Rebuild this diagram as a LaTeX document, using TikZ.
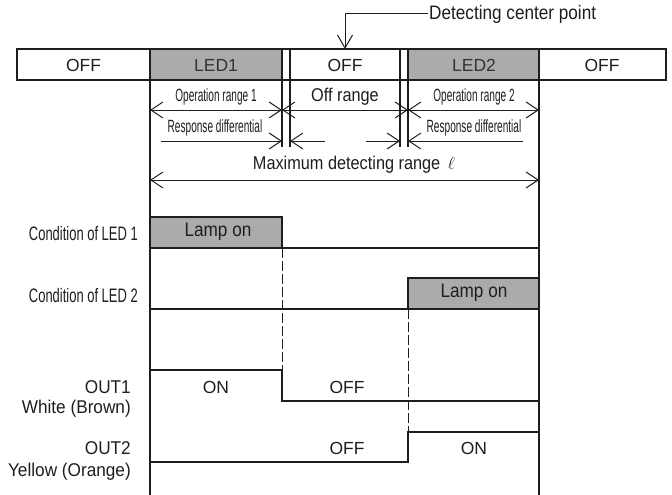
\documentclass[tikz,border=0pt]{standalone}
\usepackage{fontspec}
\setmainfont{Liberation Sans}
\newfontfamily\midfont[FakeStretch=0.88]{Liberation Sans}
\newfontfamily\outfont[FakeStretch=0.93]{Liberation Sans}
\newfontfamily\condfont[FakeStretch=0.57]{Liberation Sans}
\newfontfamily\labfont[FakeStretch=0.665]{Liberation Sans}
\usetikzlibrary{arrows.meta}
\definecolor{ledgray}{HTML}{ABABAB}
\definecolor{ink}{HTML}{1E1E1E}
\tikzset{
  every node/.style={text=ink, inner sep=1pt},
  ln/.style={draw=ink, line width=1.2pt},
  dim/.style={ln, line width=1pt, {Straight Barb[length=12pt,width=16pt]}-{Straight Barb[length=12pt,width=16pt]}},
  dimr/.style={ln, line width=1pt, -{Straight Barb[length=12pt,width=16pt]}},
  dsh/.style={draw=ink, line width=0.9pt, dash pattern=on 10pt off 3pt},
  reg/.style={font=\fontsize{17.5}{19}\selectfont},
  mid/.style={font=\midfont\fontsize{18.5}{20}\selectfont},
  big/.style={font=\midfont\fontsize{19.5}{21}\selectfont},
  lamp/.style={font=\midfont\fontsize{19.5}{21}\selectfont},
  cond/.style={font=\condfont\fontsize{17.7}{19}\selectfont},
  lab/.style={font=\labfont\fontsize{19.5}{21}\selectfont, anchor=east},
  rlab/.style={font=\outfont\fontsize{18.5}{20}\selectfont, anchor=east},
}
\begin{document}
\begin{tikzpicture}[x=1pt,y=-1pt]
\useasboundingbox (0,0) rectangle (672,495);
% top bar
\fill[ledgray] (150,49) rectangle (282,80);
\fill[ledgray] (408,49) rectangle (539,80);
\draw[ln] (17,49) rectangle (666,80);
\draw[ln] (150,49) -- (150,495);
\draw[ln] (539,49) -- (539,495);
\draw[ln] (282,49) -- (282,147);
\draw[ln] (290,49) -- (290,147);
\draw[ln] (400,49) -- (400,147);
\draw[ln] (408,49) -- (408,147);
\node[reg] (off1) at (83.5,65) {OFF};
\node[reg, text=black!80] (led1) at (216,65) {LED1};
\node[reg] (off2) at (345,65) {OFF};
\node[reg, text=black!80] (led2) at (474,65) {LED2};
\node[reg] (off3) at (602,65) {OFF};
% detecting center point
\coordinate (dc) at (345,49);
\node[big, anchor=west] (dct) at (428,14) {Detecting center point};
\draw[ln, line width=1pt, -{Straight Barb[length=13pt,width=15pt]}] (dct.west) -| (dc);
% operation ranges
\node[cond] (op1) at (216,97) {Operation range 1};
\node[mid] (offr) at (345,97) {Off range};
\node[cond] (op2) at (474,97) {Operation range 2};
\coordinate (a0) at (150,110);
\coordinate (a1) at (282,110);
\coordinate (a2) at (408,110);
\coordinate (a3) at (539,110);
\draw[dim] (a0) -- (a1);
\draw[dim] (a1) -- (a2);
\draw[dim] (a2) -- (a3);
% response differential
\node[cond] (rd1) at (215,128) {Response differential};
\node[cond] (rd2) at (474,128) {Response differential};
\coordinate (r1s) at (161,141);
\coordinate (r1e) at (282,141);
\coordinate (r2s) at (325,141);
\coordinate (r2e) at (290,141);
\coordinate (r3s) at (366,141);
\coordinate (r3e) at (400,141);
\coordinate (r4s) at (523,141);
\coordinate (r4e) at (408,141);
\draw[dimr] (r1s) -- (r1e);
\draw[dimr] (r2s) -- (r2e);
\draw[dimr] (r3s) -- (r3e);
\draw[dimr] (r4s) -- (r4e);
% maximum range
\node[mid] (max) at (354,165) {Maximum detecting range \,$\ell$};
\coordinate (m0) at (150,180);
\coordinate (m1) at (539,180);
\draw[dim] (m0) -- (m1);
% condition of LED 1
\draw[ln, fill=ledgray] (150,217) rectangle (282,248);
\node[lamp] (lamp1) at (218,232) {Lamp on};
\draw[ln] (150,248) -- (539,248);
\node[lab] (c1) at (139,234) {Condition of LED 1};
% condition of LED 2
\draw[ln, fill=ledgray] (408,278) rectangle (539,309);
\node[lamp] (lamp2) at (474,293) {Lamp on};
\draw[ln] (150,309) -- (539,309);
\node[lab] (c2) at (139,296) {Condition of LED 2};
% dashed transitions
\draw[dsh] (282,248) -- (282,370);
\draw[dsh] (408,309) -- (408,432);
% OUT1
\draw[ln] (150,370) -- (282,370) -- (282,401) -- (539,401);
\node[rlab] (o1) at (132,387) {OUT1};
\node[rlab] (o1c) at (132,409) {White (Brown)};
\node[reg] (o1on) at (216,387) {ON};
\node[reg] (o1off) at (347,387) {OFF};
% OUT2
\draw[ln] (150,462) -- (408,462) -- (408,432) -- (539,432);
\node[rlab] (o2) at (132,448) {OUT2};
\node[rlab] (o2c) at (132,472) {Yellow (Orange)};
\node[reg] (o2off) at (347,448) {OFF};
\node[reg] (o2on) at (474,448) {ON};
\end{tikzpicture}
\end{document}
